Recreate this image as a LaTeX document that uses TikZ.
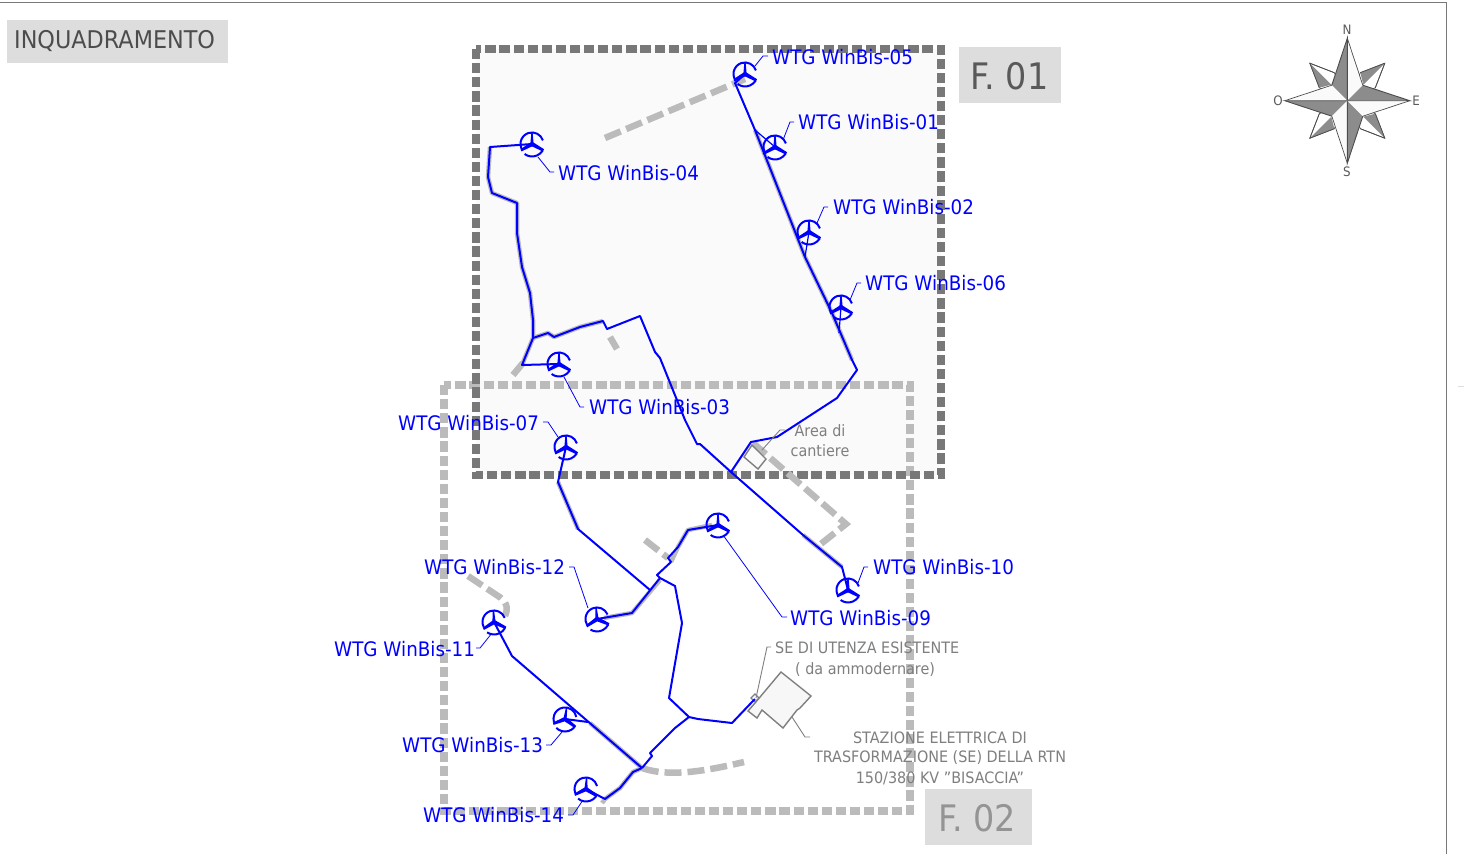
\documentclass[tikz,border=0pt]{standalone}
\usepackage{fontspec}
\setmainfont[FakeStretch=0.915]{DejaVu Sans}
\definecolor{wire}{HTML}{0000FF}
\definecolor{frameA}{HTML}{787878}
\definecolor{frameB}{HTML}{BBBBBB}
\definecolor{tag}{HTML}{DDDDDD}
\definecolor{note}{HTML}{7F7F7F}
\tikzset{
 wtglabel/.style={text=wire,font=\fontsize{20}{21}\selectfont,inner sep=0,anchor=west},
 notelabel/.style={text=note,font=\fontsize{15.7}{20}\selectfont,inner sep=0,align=center},
 cable/.style={draw=wire,line width=2pt,line join=round},
 halo/.style={draw=frameB,line width=4.5pt,line join=round},
 road/.style={draw=frameB,line width=6.5pt,dash pattern=on 17pt off 6pt},
 leader/.style={draw=wire,line width=.8pt},
 noteline/.style={draw=note,line width=.9pt},
 tagbox/.style={fill=tag,draw=none,inner sep=0},
 hub/.style={inner sep=0,minimum size=1pt,draw=none},
 turbine/.pic={
  \draw[wire,line width=2pt] (10.9,-3.6) arc (-18:-205:11.5);
  \draw[wire,line width=2pt] (-7.4,10) arc (127:32:12.4);
  \fill[wire] (-1.7,1) -- (-.7,-11) -- (.7,-11) -- (1.7,1) -- cycle;
  \fill[wire] (0,-2.4) -- (-11.5,5.2) -- (-10.5,7.4) -- (0,2.4) -- cycle;
  \fill[wire] (0,-2.4) -- (12,5.2) -- (11,7.6) -- (0,2.4) -- cycle;
 }
}
\begin{document}
\begin{tikzpicture}[x=1pt,y=-1pt]
\useasboundingbox (0,0) rectangle (1464,854);
\fill[white] (0,0) rectangle (1464,854);
% sheet border
\draw[frameA,line width=1pt] (0,2.5) -- (1446.5,2.5) -- (1446.5,854);
\draw[tag,line width=.8pt] (1458,386.5) -- (1464,386.5);
% frames
\fill[white!98!black] (476,49) rectangle (941,475);
\draw[frameB,line width=7.5pt,dash pattern=on 10.2pt off 3.9pt] (444,385) rectangle (910,811);
\draw[frameA,line width=8pt,dash pattern=on 10.2pt off 3.9pt] (476,49) rectangle (941,475);
% tags
\node[tagbox,minimum width=221pt,minimum height=43pt,anchor=north west] (inq) at (7,20) {};
\node[text=black!70,font=\fontsize{24.4}{26}\selectfont,inner sep=0,anchor=west] (inqt) at (14,41) {INQUADRAMENTO};
\node[tagbox,minimum width=102pt,minimum height=56pt,anchor=north west] (f1) at (959,47) {};
\node[text=black!65,font=\fontsize{36.5}{38}\selectfont,inner sep=0] (f1t) at (1009.5,76) {F. 01};
\node[tagbox,minimum width=107pt,minimum height=56pt,anchor=north west] (f2) at (925,789) {};
\node[text=black!42,font=\fontsize{36.5}{38}\selectfont,inner sep=0] (f2t) at (977,818) {F. 02};
% roads
\draw[road] (605,138) -- (745,79);
\draw[road,dash pattern=on 20pt off 4pt] (513,375) -- (523,363);
\draw[road] (610,337) -- (617,349);
\draw[road] (753,443) -- (846,524) -- (817,547);
\draw[road] (645,540) -- (668,558);
\draw[road] (468,576) -- (498,596) .. controls (506,601) and (509,607) .. (505,616);
\draw[road] (642,768) .. controls (670,778) and (710,770) .. (744,762);
% building and site
\draw[note,line width=1.4pt,fill=white!97!black] (781,672) -- (811,696) -- (800,708) -- (797,710) -- (783,728) -- (762,710) -- (757,718) -- (748,711) -- (755,703) -- cycle;
\draw[note,line width=1.1pt] (751,698) -- (755,694) -- (759,698) -- (755,702) -- cycle;
\draw[note,line width=1.4pt] (752,445) -- (766,459) -- (758,469) -- (744,457) -- cycle;
% halos
\draw[halo] (490,147) -- (488,177) -- (492,193) -- (517,203) -- (517,233) -- (522,267) -- (530,293) -- (533,320) -- (533,338) -- (522,365);
\draw[halo] (533,338) -- (548,333) -- (554,337) -- (580,327) -- (603,321);
\draw[halo] (755,130) -- (805,257) -- (832,313) -- (852,360);
\draw[halo] (558,482) -- (578,529);
\draw[halo] (604,618) -- (632,613) -- (660,580);
\draw[halo] (671,562) -- (678,547) -- (688,530) -- (712,525);
\draw[halo] (590,723) -- (642,768);
\draw[halo] (602,803) -- (605,799) -- (620,788) -- (633,772) -- (642,768);
\draw[halo] (803,535) -- (842,567);
% turbines (hub nodes)
\foreach \n/\x/\y/\r in {t05/745/74/0,t01/775/147/0,t02/809/232/0,t06/841/307/0,t04/532/144/0,t03/559/364/0,t07/566/447/0,t09/718/525/0,t10/848/590/0,t12/597/619/5,t11/494/622/3,t13/565/719/-8,t14/586/789/-3}{
 \node[hub] (\n) at (\x,\y) {};
 \pic[rotate=\r] at (\n) {turbine};
}
% cables
\coordinate (j1) at (533,338);
\coordinate (j2) at (731,472);
\coordinate (j3) at (660,578);
\coordinate (j4) at (642,768);
\coordinate (j5) at (689,717);
\coordinate (top) at (735,83);
\coordinate (bend) at (857,370);
\draw[cable] (t04.center) -- (490,147) -- (488,177) -- (492,193) -- (517,203) -- (517,233) -- (522,267) -- (530,293) -- (533,320) -- (j1);
\draw[cable] (j1) -- (522,365) -- (t03.center);
\draw[cable] (j1) -- (548,333) -- (554,337) -- (580,327) -- (603,321) -- (607,329) -- (640,316) -- (655,352) -- (660,358) -- (685,420) -- (697,444) -- (700,444) -- (j2) -- (803,535) -- (842,567) -- (848,590) -- (t10.center);
\draw[cable] (j2) -- (751,442) -- (777,437) -- (837,398) -- (bend) -- (852,360) -- (832,313) -- (805,257) -- (755,130) -- (top) -- (t05.center);
\draw[cable,line width=1.2pt] (755,130) -- (t01.center) -- (763,154);
\draw[cable,line width=1.2pt] (805,257) -- (t02.center);
\draw[cable,line width=1.2pt] (839,333) -- (t06.center);
\draw[cable] (t07.center) -- (558,482) -- (578,529) -- (650,590);
\draw[cable] (t12.center) -- (632,613) -- (j3) -- (657,575) -- (671,562) -- (668,558) -- (678,547) -- (688,530) -- (t09.center);
\draw[cable] (j3) -- (675,586) -- (682,623) -- (669,698) -- (j5) -- (698,719) -- (732,723) -- (752,702) -- (755,699);
\draw[cable] (t11.center) -- (512,656) -- (j4);
\draw[cable] (t13.center) -- (588,722);
\draw[cable] (t14.center) -- (605,799) -- (620,788) -- (633,772) -- (j4);
\draw[cable] (j4) -- (652,756) -- (650,753) -- (675,728) -- (j5);
% leaders
\draw[leader] (t05) ++(10,-8) -- (763,56) -- (768,56);
\draw[leader] (t01) ++(8,-7) -- (790,122) -- (794,122);
\draw[leader] (t02) ++(8,-9) -- (824,207) -- (828,207);
\draw[leader] (t06) ++(9,-7) -- (857,283) -- (861,283);
\draw[leader] (t04) ++(6,13) -- (550,172) -- (554,172);
\draw[leader] (t03) ++(5,13) -- (580,407) -- (584,407);
\draw[leader] (t07) ++(-8,-10) -- (548,422) -- (543,422);
\draw[leader] (t12) ++(-9,-11) -- (574,567) -- (569,567);
\draw[leader] (t09) ++(5,10) -- (782,617) -- (787,617);
\draw[leader] (t10) ++(10,-7) -- (864,567) -- (868,567);
\draw[leader] (t11) ++(-2,11) -- (480,648) -- (476,648);
\draw[leader] (t13) ++(-3,13) -- (551,745) -- (546,745);
\draw[leader] (t14) ++(-3,11) -- (573,815) -- (568,815);
\draw[noteline] (762,450) -- (780,430) -- (785,430);
\draw[noteline] (756,698) -- (767,647) -- (771,647);
\draw[noteline] (792,717) -- (805,737) -- (810,737);
% labels
\foreach \n/\x/\y/\t in {l05/772/57/05,l01/798/122/01,l02/833/207/02,l06/865/283/06,l04/558/173/04,l03/589/407/03,l07/398/423/07,l12/424/567/12,l10/873/567/10,l09/790/618/09,l11/334/649/11,l13/402/745/13,l14/423/815/14}{
 \node[wtglabel] (\n) at (\x,\y) {WTG WinBis-\t};
}
\node[notelabel] (area) at (820,441) {Area di\\[.1pt]cantiere};
\node[notelabel,anchor=west] (se1) at (775,648) {SE DI UTENZA ESISTENTE};
\node[notelabel,anchor=west] (se2) at (795,670) {( da ammodernare)};
\node[notelabel] (st1) at (940,738) {STAZIONE ELETTRICA DI};
\node[notelabel] (st2) at (940,758) {TRASFORMAZIONE (SE) DELLA RTN};
\node[notelabel] (st3) at (940,778) {150/380 KV "BISACCIA"};
% compass
\begin{scope}[shift={(1347.3,100.7)}]
 \foreach \a in {0,90,180,270}{
  \begin{scope}[rotate=\a]
  \fill[white,draw=black!70,line width=.7pt] (37.5,-37.5) -- (13,-28) -- (0,0) -- (28,-13) -- cycle;
  \fill[black!45] (37.5,-37.5) -- (13,-28) -- (16,-16) -- cycle;
  \draw[black!70,line width=.7pt] (37.5,-37.5) -- (13,-28);
  \draw[black!70,line width=.7pt] (37.5,-37.5) -- (28,-13);
  \end{scope}
 }
 \foreach \a in {0,90,180,270}{
  \begin{scope}[rotate=\a]
  \fill[black!45] (0,-62.5) -- (-15.5,-15.5) -- (0,0) -- cycle;
  \fill[white!98!black] (0,-62.5) -- (15.5,-15.5) -- (0,0) -- cycle;
  \draw[black!70,line width=.9pt] (0,0) -- (0,-62.5) -- (-15.5,-15.5);
  \draw[black!70,line width=.7pt] (0,-62.5) -- (15.5,-15.5);
  \end{scope}
 }
\end{scope}
\foreach \n/\x/\y/\t in {cn/1347/30/N,co/1278/101/O,ce/1416/101/E,cs/1347/172/S}{
 \node[text=black!65,font=\fontsize{13}{14}\selectfont,inner sep=0] (\n) at (\x,\y) {\t};
}
\end{tikzpicture}
\end{document}
